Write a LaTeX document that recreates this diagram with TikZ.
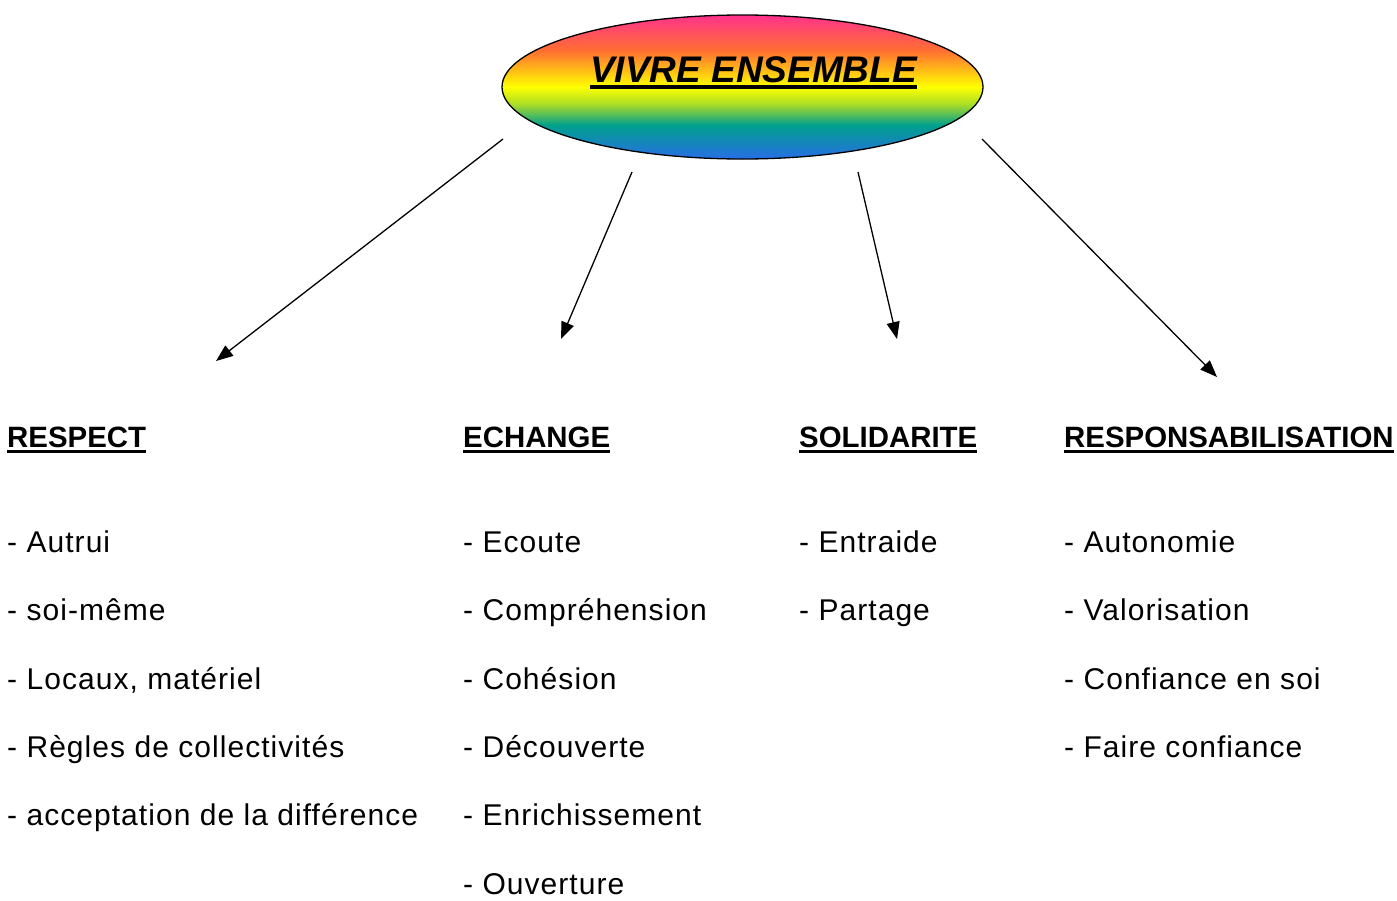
\documentclass[tikz,border=0pt]{standalone}
\usepackage{fontspec}
\setmainfont{Liberation Sans}
\newfontfamily\itemfont{Liberation Sans}[LetterSpace=3.5]
\usetikzlibrary{arrows.meta}
\definecolor{cblue}{RGB}{40,110,230}
\definecolor{cteal}{RGB}{0,160,140}
\definecolor{clime}{RGB}{170,220,40}
\definecolor{cyell}{RGB}{255,255,0}
\definecolor{corng}{RGB}{255,110,50}
\definecolor{cpink}{RGB}{255,50,140}
\pgfdeclareverticalshading{rainbow}{100bp}{color(0bp)=(cblue); color(25bp)=(cblue); color(36.8bp)=(cteal); color(44bp)=(clime); color(50bp)=(cyell); color(62.8bp)=(corng); color(75bp)=(cpink); color(100bp)=(cpink)}
\tikzset{
  hdr/.style={anchor=base west, inner sep=0pt, font=\fontsize{29.4}{34}\selectfont\bfseries},
  itm/.style={anchor=base west, inner sep=0pt, font=\fontsize{30}{35}\selectfont\itemfont},
  conn/.style={line width=1.3pt, -{Triangle[length=17pt,width=13pt]}},
  uline/.style={line width=3.3pt}
}
\begin{document}
\begin{tikzpicture}[x=1pt,y=-1pt]
\useasboundingbox (0,0) rectangle (1397,900);
% central ellipse
\shade[shading=rainbow, draw=black, line width=1.3pt] (742.5,87) ellipse [x radius=240.5, y radius=72];
\node (top) [inner sep=0pt, anchor=base, font=\fontsize{37}{43}\selectfont\bfseries\itshape] at (753.5,82) {VIVRE ENSEMBLE};
\draw[line width=4pt] ([yshift=-5pt]top.base west) -- ([yshift=-5pt]top.base east);
% connector end points
\coordinate (s1) at (503,139);
\coordinate (s2) at (632,172);
\coordinate (s3) at (858,172);
\coordinate (s4) at (982,139);
\coordinate (e1) at (216,361);
\coordinate (e2) at (561,339);
\coordinate (e3) at (897,339);
\coordinate (e4) at (1217,377);
\draw[conn] (s1) -- (e1);
\draw[conn] (s2) -- (e2);
\draw[conn] (s3) -- (e3);
\draw[conn] (s4) -- (e4);
% headers
\node (h1) [hdr] at (7,447.7) {RESPECT};
\node (h2) [hdr] at (463,447.7) {ECHANGE};
\node (h3) [hdr] at (799,447.7) {SOLIDARITE};
\node (h4) [hdr] at (1064,447.7) {RESPONSABILISATION};
\foreach \h in {h1,h2,h3,h4}
  \draw[uline] ([yshift=-3.8pt]\h.base west) -- ([yshift=-3.8pt]\h.base east);
% items
\node (a1) [itm] at (7,552.3) {- Autrui};
\node (a2) [itm] at (7,620.7) {- soi-même};
\node (a3) [itm] at (7,689.1) {- Locaux, matériel};
\node (a4) [itm] at (7,757.5) {- Règles de collectivités};
\node (a5) [itm] at (7,825.9) {- acceptation de la différence};
\node (b1) [itm] at (463,552.3) {- Ecoute};
\node (b2) [itm] at (463,620.7) {- Compréhension};
\node (b3) [itm] at (463,689.1) {- Cohésion};
\node (b4) [itm] at (463,757.5) {- Découverte};
\node (b5) [itm] at (463,825.9) {- Enrichissement};
\node (b6) [itm] at (463,894.3) {- Ouverture};
\node (c1) [itm] at (799,552.3) {- Entraide};
\node (c2) [itm] at (799,620.7) {- Partage};
\node (d1) [itm] at (1064,552.3) {- Autonomie};
\node (d2) [itm] at (1064,620.7) {- Valorisation};
\node (d3) [itm] at (1064,689.1) {- Confiance en soi};
\node (d4) [itm] at (1064,757.5) {- Faire confiance};
\end{tikzpicture}
\end{document}
